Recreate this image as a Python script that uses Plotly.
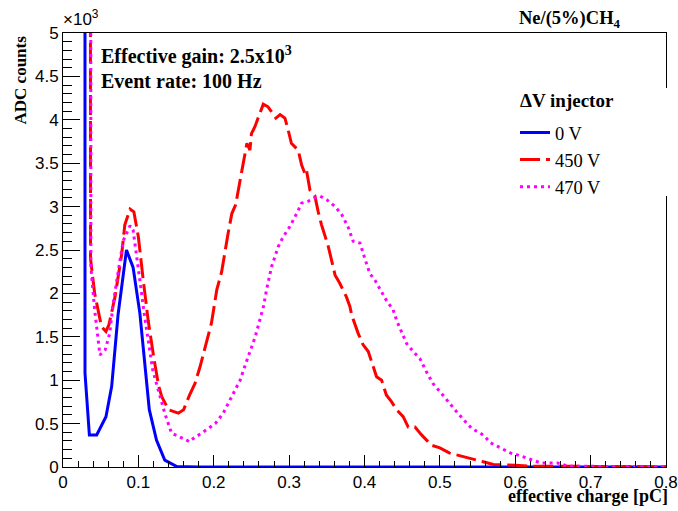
import plotly.graph_objects as go

# ---- data (x in pC, y in ADC counts) ----
x_0V = [0.0288, 0.0292, 0.035, 0.0447, 0.057, 0.0646, 0.073, 0.0842, 0.093, 0.102,
        0.1145, 0.124, 0.135, 0.151, 0.18, 0.8]
y_0V = [60000, 1080, 370, 370, 580, 930, 1750, 2500, 2300, 1770,
        660, 310, 80, 5, 0, 0]

x_450V = [0.0345, 0.0365, 0.042, 0.051, 0.057, 0.061, 0.069, 0.078, 0.082, 0.089, 0.094,
          0.100, 0.1065, 0.113, 0.121, 0.127, 0.131, 0.140, 0.153, 0.160, 0.168,
          0.175, 0.182, 0.190, 0.197, 0.204, 0.2105, 0.219, 0.224, 0.229, 0.2325,
          0.239, 0.244, 0.248, 0.250, 0.2546, 0.259, 0.2657, 0.272, 0.279, 0.2825,
          0.288, 0.2944, 0.2988, 0.303, 0.312, 0.3166, 0.321, 0.323, 0.3276, 0.334,
          0.3386, 0.343, 0.352, 0.361, 0.367, 0.376, 0.3806, 0.383, 0.3916, 0.398,
          0.405, 0.4115, 0.416, 0.4227, 0.429, 0.436, 0.4426, 0.4513, 0.458, 0.467,
          0.4757, 0.489, 0.500, 0.513, 0.5265, 0.540, 0.5575, 0.571, 0.585, 0.600,
          0.620, 0.650, 0.700, 0.800]
y_450V = [60000, 2400, 2000, 1620, 1560, 1640, 1960, 2460, 2790, 2970, 2940,
          2650, 2150, 1690, 1230, 930, 810, 660, 620, 660, 830,
          960, 1160, 1440, 1660, 2040, 2250, 2690, 2920, 3020, 3190,
          3520, 3730, 3650, 3840, 3920, 4020, 4180, 4150, 4070, 4020,
          4060, 4020, 3880, 3730, 3650, 3480, 3380, 3420, 3190, 3130,
          2940, 2790, 2540, 2210, 2120, 1960, 1850, 1750, 1540, 1410,
          1330, 1160, 1040, 1000, 830, 750, 660, 580, 460, 460,
          370, 250, 220, 160, 127, 100, 60, 28, 20, 20,
          10, 10, 5, 3]

x_470V = [0.0345, 0.037, 0.042, 0.049, 0.056, 0.062, 0.0667, 0.071, 0.0756, 0.080,
          0.084, 0.089, 0.093, 0.096, 0.102, 0.108, 0.113, 0.119, 0.124, 0.135,
          0.144, 0.155, 0.164, 0.168, 0.173, 0.184, 0.202, 0.2126, 0.224, 0.235,
          0.244, 0.255, 0.266, 0.270, 0.2768, 0.2856, 0.292, 0.301, 0.310, 0.3166,
          0.325, 0.334, 0.341, 0.3497, 0.354, 0.361, 0.3696, 0.378, 0.385, 0.394,
          0.4005, 0.407, 0.414, 0.420, 0.429, 0.438, 0.4426, 0.449, 0.456, 0.4646,
          0.4735, 0.482, 0.491, 0.500, 0.511, 0.520, 0.531, 0.5426, 0.554, 0.5597,
          0.567, 0.580, 0.594, 0.6027, 0.616, 0.634, 0.656, 0.670, 0.687, 0.723, 0.800]
y_470V = [60000, 2300, 1810, 1290, 1350, 1540, 1890, 2150, 2380, 2610,
          2680, 2780, 2730, 2550, 2150, 1750, 1450, 1120, 960, 620,
          390, 350, 310, 290, 330, 390, 500, 620, 810, 1000,
          1230, 1500, 1850, 2040, 2310, 2540, 2650, 2770, 2920, 3040,
          3060, 3100, 3120, 3080, 3050, 3000, 2910, 2770, 2600, 2580,
          2400, 2230, 2150, 2060, 1920, 1810, 1690, 1560, 1420, 1330,
          1250, 1100, 960, 870, 750, 660, 550, 440, 390, 350,
          280, 220, 160, 140, 100, 46, 46, 10, 10, 5, 3]

series_names = ["0 V", "450 V", "470 V"]

y_tickvals = [0, 500, 1000, 1500, 2000, 2500, 3000, 3500, 4000, 4500, 5000]
y_ticktext = ["0", "0.5", "1", "1.5", "2", "2.5", "3", "3.5", "4", "4.5", "5"]
x_tickvals = [0, 0.1, 0.2, 0.3, 0.4, 0.5, 0.6, 0.7, 0.8]
x_ticktext = ["0", "0.1", "0.2", "0.3", "0.4", "0.5", "0.6", "0.7", "0.8"]

# ---- figure ----
W, H = 678, 511
L, R, T, B = 63, 666, 33, 467
def px(xp):
    return (xp - L) / (R - L)
def py(yp):
    return (B - yp) / (B - T)

SERIF = "Liberation Serif, Times New Roman, serif"
SANS = "Liberation Sans, Arial, Helvetica, sans-serif"

fig = go.Figure()
fig.add_trace(go.Scatter(x=x_0V, y=y_0V, mode="lines", name=series_names[0],
                         line=dict(color="#0000ff", width=3)))
fig.add_trace(go.Scatter(x=x_450V, y=y_450V, mode="lines", name=series_names[1],
                         line=dict(color="#ff0000", width=3, dash="20px,6px")))
fig.add_trace(go.Scatter(x=x_470V, y=y_470V, mode="lines", name=series_names[2],
                         line=dict(color="#ff00ff", width=3, dash="3px,4px")))

axis_common = dict(showline=True, linecolor="black", linewidth=1, mirror=True, automargin=False,
                   showgrid=False, zeroline=False, ticks="inside", tickcolor="black",
                   tickfont=dict(family=SANS, size=17, color="black"))

fig.update_xaxes(range=[0, 0.8], tickmode="array", tickvals=x_tickvals, ticktext=x_ticktext,
                 ticklen=12,
                 minor=dict(tickmode="linear", tick0=0, dtick=0.02, ticks="inside",
                            ticklen=6, tickcolor="black"),
                 **axis_common)
fig.update_yaxes(range=[0, 5000], tickmode="array", tickvals=y_tickvals, ticktext=y_ticktext,
                 ticklen=17,
                 minor=dict(tickmode="linear", tick0=0, dtick=100, ticks="inside",
                            ticklen=9, tickcolor="black"),
                 **axis_common)

annotations = [
    dict(text="×10<sup>3</sup>", x=px(61), y=py(31), xanchor="left", yanchor="bottom",
         font=dict(family=SANS, size=17, color="black")),
    dict(text="<b>Ne/(5%)CH<sub>4</sub></b>", x=px(623), y=py(20), xanchor="right", yanchor="middle",
         font=dict(family=SERIF, size=18.5, color="black")),
    dict(text="<b>Effective gain: 2.5x10<sup>3</sup></b>", x=px(99), y=py(55), xanchor="left",
         yanchor="middle", font=dict(family=SERIF, size=20, color="black")),
    dict(text="<b>Event rate: 100 Hz</b>", x=px(99), y=py(81), xanchor="left",
         yanchor="middle", font=dict(family=SERIF, size=20, color="black")),
    dict(text="<b>ADC counts</b>", x=px(20), y=py(34), xanchor="center", yanchor="top",
         textangle=-90, font=dict(family=SERIF, size=17, color="black")),
    dict(text="<b>effective charge [pC]</b>", x=px(670), y=py(496), xanchor="right",
         yanchor="middle", font=dict(family=SERIF, size=18, color="black")),
    dict(text="<b>ΔV injector</b>", x=px(518), y=py(100), xanchor="left",
         yanchor="middle", font=dict(family=SERIF, size=19, color="black")),
]
for a in annotations:
    a.update(xref="paper", yref="paper", showarrow=False)

fig.update_layout(
    width=W, height=H,
    margin=dict(l=L, r=W - R, t=T, b=H - B, pad=0),
    paper_bgcolor="white", plot_bgcolor="white",
    annotations=annotations,
    showlegend=True,
    legend=dict(x=px(515), y=py(114), xanchor="left", yanchor="top",
                bgcolor="rgba(0,0,0,0)", borderwidth=0,
                font=dict(family=SERIF, size=18.5, color="black")),
    shapes=[dict(type="rect", xref="paper", yref="paper", x0=px(505), x1=px(672),
                 y0=py(196), y1=py(88), fillcolor="white", line=dict(width=0), layer="above")],
)

fig.write_html("out.html", config={"displayModeBar": False},
               post_script="document.body.style.margin='0px';document.body.style.overflow='hidden';")
